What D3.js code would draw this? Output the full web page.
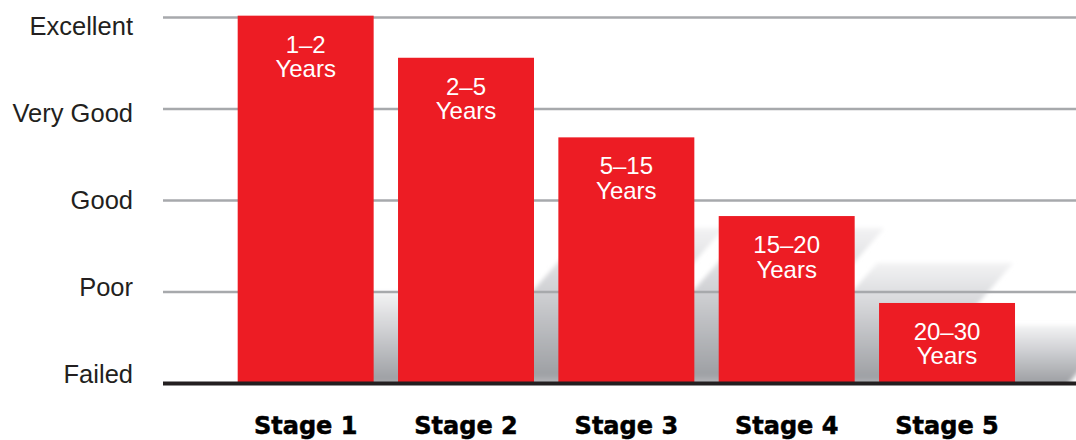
<!DOCTYPE html>
<html>
<head>
<meta charset="utf-8">
<script src="https://cdn.jsdelivr.net/npm/d3@7"></script>
<style>
  html, body { margin: 0; padding: 0; background: #ffffff; }
  svg { display: block; }
</style>
</head>
<body>
<div id="chart"></div>
<script>
// ---- data ----
const stages = ["Stage 1", "Stage 2", "Stage 3", "Stage 4", "Stage 5"];
const conditionValues = [4.02, 3.56, 2.69, 1.83, 0.88];
const lifeRanges = ["1–2", "2–5", "5–15", "15–20", "20–30"];
const rangeUnit = "Years";
const conditionLevels = ["Failed", "Poor", "Good", "Very Good", "Excellent"];

// ---- layout ----
const W = 1076, H = 440;
const svg = d3.select("#chart").append("svg")
  .attr("width", W).attr("height", H);

const y = d3.scaleLinear().domain([0, 4]).range([383.5, 17.5]);
const yLabel = d3.scaleLinear().domain([0, 4]).range([383, 35]);
const x = d3.scaleBand().domain(stages)
  .range([225.5, 1027.2]).paddingInner(0.152).paddingOuter(0.076);

const defs = svg.append("defs");
const grad = defs.append("linearGradient").attr("id", "shGrad")
  .attr("x1", 0).attr("y1", 0).attr("x2", 0).attr("y2", 1);
grad.append("stop").attr("offset", "0%").attr("stop-color", "#f3f3f4");
grad.append("stop").attr("offset", "35%").attr("stop-color", "#d4d5d8");
grad.append("stop").attr("offset", "92%").attr("stop-color", "#9ea0a4");
grad.append("stop").attr("offset", "100%").attr("stop-color", "#c4c6c9");
defs.append("filter").attr("id", "blur")
  .attr("x", "-10%").attr("y", "-10%").attr("width", "120%").attr("height", "120%")
  .append("feGaussianBlur").attr("stdDeviation", 2.2);
defs.append("clipPath").attr("id", "aboveBase")
  .append("rect").attr("x", 0).attr("y", 0).attr("width", W).attr("height", y(0));

// ---- decorative shadows behind bars ----
const base = y(0);
const shadowG = svg.append("g").attr("clip-path", "url(#aboveBase)");
shadowG.selectAll("path.shadow")
  .data(stages.map((s, i) => ({ s, i, v: conditionValues[i] })))
  .join("path")
  .attr("class", "shadow")
  .attr("fill", "url(#shGrad)")
  .attr("filter", "url(#blur)")
  .attr("d", d => {
    const lvl = d.i === 0 ? 1.0 : Math.min(d.v * 0.72, 1.7);
    const top = y(lvl);
    const h = base - top;
    const o = 50, s = h * 0.9;
    const xl = x(d.s), xr = x(d.s) + x.bandwidth();
    return `M${xl + o},${base + 4}L${xr + o},${base + 4}L${xr + o + s},${top}L${xl + o + s},${top}Z`;
  });

// ---- gridlines ----
svg.append("g").selectAll("line.grid")
  .data(d3.range(1, 5))
  .join("line")
  .attr("x1", 163).attr("x2", W)
  .attr("y1", d => y(d)).attr("y2", d => y(d))
  .attr("stroke", "#a7a9ac").attr("stroke-width", 2.5);

// ---- y labels ----
svg.append("g").selectAll("text.ylab")
  .data(conditionLevels)
  .join("text")
  .attr("x", 133).attr("y", (d, i) => yLabel(i))
  .attr("text-anchor", "end")
  .attr("font-family", "'Liberation Sans', Arial, sans-serif")
  .attr("font-size", 25.5)
  .attr("fill", "#231f20")
  .text(d => d);

// ---- bars ----
svg.append("g").selectAll("rect.bar")
  .data(stages)
  .join("rect")
  .attr("x", d => x(d))
  .attr("width", x.bandwidth())
  .attr("y", (d, i) => y(conditionValues[i]))
  .attr("height", (d, i) => base - y(conditionValues[i]))
  .attr("fill", "#ed1c24");

// ---- bar labels ----
const lab = svg.append("g").selectAll("text.blab")
  .data(stages)
  .join("text")
  .attr("text-anchor", "middle")
  .attr("font-family", "'Liberation Sans', Arial, sans-serif")
  .attr("font-size", 24)
  .attr("fill", "#ffffff");
lab.append("tspan")
  .attr("x", d => x(d) + x.bandwidth() / 2)
  .attr("y", (d, i) => y(conditionValues[i]) + 37)
  .text((d, i) => lifeRanges[i]);
lab.append("tspan")
  .attr("x", d => x(d) + x.bandwidth() / 2)
  .attr("y", (d, i) => y(conditionValues[i]) + 61.5)
  .text(rangeUnit);

// ---- baseline ----
svg.append("line")
  .attr("x1", 163).attr("x2", W)
  .attr("y1", base).attr("y2", base)
  .attr("stroke", "#231f20").attr("stroke-width", 4);

// ---- stage labels ----
svg.append("g").selectAll("text.xlab")
  .data(stages)
  .join("text")
  .attr("x", d => x(d) + x.bandwidth() / 2)
  .attr("y", 434)
  .attr("text-anchor", "middle")
  .attr("font-family", "'DejaVu Sans', sans-serif")
  .attr("font-weight", "bold")
  .attr("font-size", 24)
  .attr("fill", "#000000")
  .attr("stroke", "#000000").attr("stroke-width", 0.5)
  .text(d => d);
</script>
</body>
</html>
